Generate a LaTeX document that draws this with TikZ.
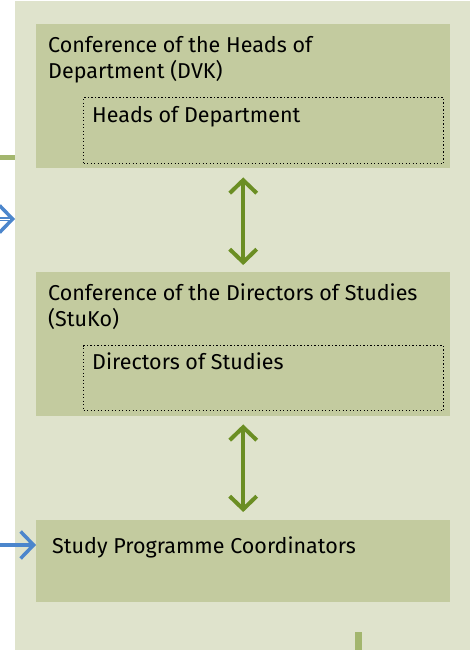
\documentclass[tikz,border=0pt]{standalone}
\usepackage{fontspec}
\setmainfont{Fira Sans}
\usetikzlibrary{arrows.meta}
\definecolor{panel}{HTML}{DFE3CC}
\definecolor{boxfill}{HTML}{C3CB9F}
\definecolor{olive}{HTML}{6B8E23}
\definecolor{barg}{HTML}{A3B66E}
\definecolor{bluea}{HTML}{4C86CC}
\tikzset{
  orgbox/.style={fill=boxfill, draw=none, anchor=north west, inner sep=0pt},
  subbox/.style={draw=black, line width=1.2pt, dash pattern=on 1.2pt off 2.3pt, anchor=north west, inner sep=0pt},
  lbl/.style={anchor=base west, inner sep=0pt, align=left, font=\fontsize{21.5}{26}\selectfont},
  garrow/.style={draw=olive, line width=4pt, {Straight Barb[length=13pt,width=27pt]}-{Straight Barb[length=13pt,width=27pt]}},
  barrow/.style={draw=bluea, line width=3.5pt, -{Straight Barb[length=13pt,width=27pt]}},
  bar/.style={fill=barg, draw=none}
}
\begin{document}
\begin{tikzpicture}[x=1pt,y=-1pt]
\useasboundingbox (0,0) rectangle (470,650);
\fill[panel] (15,1) rectangle (470,650);
% outside bits
\fill[bar] (0,155) rectangle (15,160);
\fill[bar] (355,632) rectangle (362,650);
% boxes
\node[orgbox, minimum width=414pt, minimum height=144pt] (dvk) at (36,24) {};
\node[subbox, minimum width=360pt, minimum height=66pt] (hod) at (83,97) {};
\node[lbl] (dvkt) at (48,79) {Conference of the Heads of\\Department (DVK)};
\node[lbl] (hodt) at (92,122) {Heads of Department};
\node[orgbox, minimum width=414pt, minimum height=144pt] (stuko) at (36,272) {};
\node[subbox, minimum width=360pt, minimum height=65pt] (dos) at (83,345) {};
\node[lbl] (stukot) at (48,326) {Conference of the Directors of Studies\\(StuKo)};
\node[lbl] (dost) at (92,369) {Directors of Studies};
\node[orgbox, minimum width=414pt, minimum height=82pt] (spc) at (36,520) {};
\node[lbl] (spct) at (52,553) {Study Programme Coordinators};
% connectors
\draw[garrow, shorten <=9pt, shorten >=7pt] (dvk.south) -- (stuko.north);
\draw[garrow, shorten <=8pt, shorten >=8pt] (stuko.south) -- (spc.north);
\coordinate (bin) at (0,545);
\draw[barrow] (bin) -- (bin -| spc.west);
\coordinate (bin2) at (-2,219);
\coordinate (pin) at (15,219);
\coordinate (pmid) at (10,219);
\draw[barrow] (bin2) -- (pin);
\draw[white, line width=1pt] (bin2) -- (pmid);
\end{tikzpicture}
\end{document}
